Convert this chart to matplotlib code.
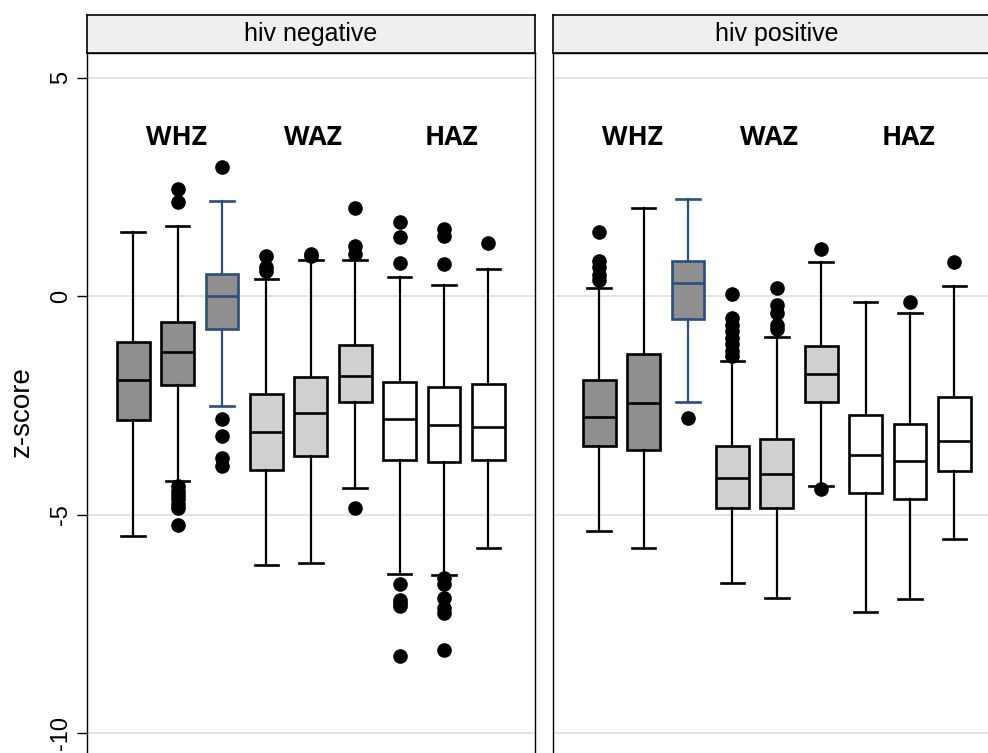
import matplotlib
matplotlib.use("Agg")
import matplotlib.pyplot as plt

# box statistics, 9 boxes per panel:
# WHZ (3), WAZ (3), HAZ (3)
PANELS = ["hiv negative", "hiv positive"]
GROUPS = ["WHZ", "WAZ", "HAZ"]

neg_whislo = [-5.48, -4.23, -2.52, -6.15, -6.12, -4.40, -6.37, -6.39, -5.76]
neg_q1 = [-2.84, -2.03, -0.75, -3.97, -3.66, -2.43, -3.75, -3.79, -3.75]
neg_med = [-1.91, -1.27, 0.00, -3.12, -2.68, -1.83, -2.82, -2.95, -2.99]
neg_q3 = [-1.04, -0.58, 0.52, -2.23, -1.84, -1.11, -1.97, -2.07, -2.00]
neg_whishi = [1.46, 1.61, 2.19, 0.39, 0.82, 0.84, 0.43, 0.26, 0.63]
neg_fliers = [
    [],
    [2.45, 2.16, -4.35, -4.45, -4.55, -4.65, -4.75, -4.85, -5.23],
    [2.95, -2.81, -3.19, -3.70, -3.88],
    [0.93, 0.68, 0.57],
    [0.97, 0.93],
    [2.01, 1.14, 0.97, -4.84],
    [1.71, 1.36, 0.76, -6.58, -6.95, -7.03, -7.10, -8.23],
    [1.54, 1.37, 0.74, -6.45, -6.60, -6.90, -7.14, -7.25, -8.11],
    [1.23],
]

pos_whislo = [-5.37, -5.77, -2.42, -6.57, -6.90, -4.35, -7.24, -6.93, -5.55]
pos_q1 = [-3.42, -3.53, -0.52, -4.84, -4.85, -2.42, -4.51, -4.64, -4.00]
pos_med = [-2.77, -2.45, 0.30, -4.16, -4.08, -1.78, -3.63, -3.78, -3.32]
pos_q3 = [-1.91, -1.32, 0.81, -3.43, -3.26, -1.13, -2.73, -2.93, -2.31]
pos_whishi = [0.19, 2.02, 2.23, -1.48, -0.94, 0.79, -0.14, -0.39, 0.23]
pos_fliers = [
    [1.48, 0.80, 0.68, 0.49, 0.37],
    [],
    [-2.80],
    [0.05, -0.50, -0.65, -0.80, -0.95, -1.10, -1.25, -1.38],
    [0.18, -0.19, -0.39, -0.65, -0.76],
    [1.09, -4.41],
    [],
    [-0.13],
    [0.78],
]

FILLS = ["#8f8f8f", "#8f8f8f", "#8f8f8f",
         "#d0d0d0", "#d0d0d0", "#d0d0d0",
         "#ffffff", "#ffffff", "#ffffff"]
EDGES = ["black", "black", "#2a4f7a"] + ["black"] * 6

plt.rcParams["font.family"] = ["Liberation Sans", "DejaVu Sans"]

fig = plt.figure(figsize=(9.88, 7.53), dpi=100)

W, H = 988.0, 753.0
ax_top = 1 - 53 / H
ax_bot = -17 / H
lefts = [87 / W, 553 / W]
width = 448 / W

data = [
    (neg_whislo, neg_q1, neg_med, neg_q3, neg_whishi, neg_fliers),
    (pos_whislo, pos_q1, pos_med, pos_q3, pos_whishi, pos_fliers),
]
label_x = [[1.98, 5.05, 8.18], [1.76, 4.83, 7.96]]

for p, (title, (wlo, q1, med, q3, whi, fl)) in enumerate(zip(PANELS, data)):
    ax = fig.add_axes([lefts[p], ax_bot, width, ax_top - ax_bot])
    stats = []
    for i in range(len(med)):
        stats.append(dict(whislo=wlo[i], q1=q1[i], med=med[i], q3=q3[i],
                          whishi=whi[i], fliers=fl[i]))
    positions = list(range(1, len(stats) + 1))
    for i, st in enumerate(stats):
        c = EDGES[i]
        ax.bxp([st], positions=[positions[i]], widths=0.74, capwidths=0.53,
               patch_artist=True, showfliers=True,
               boxprops=dict(facecolor=FILLS[i], edgecolor=c, linewidth=1.9),
               medianprops=dict(color=c, linewidth=1.9),
               whiskerprops=dict(color=c, linewidth=1.6),
               capprops=dict(color=c, linewidth=1.9),
               flierprops=dict(marker="o", markerfacecolor="black",
                               markeredgecolor="black", markersize=9.5))

    ax.set_xlim(-0.04, 10.05)
    ax.set_ylim(-10.85, 5.57)
    ax.set_yticks([5, 0, -5, -10])
    ax.set_xticks([])
    ax.grid(axis="y", color="#dcdcdc", linewidth=1.1)
    ax.set_axisbelow(True)
    for s in ax.spines.values():
        s.set_linewidth(1.0)
    if p == 0:
        ax.set_yticklabels(["5", "0", "-5", "-10"], rotation=90, va="center",
                           fontsize=17)
        ax.tick_params(axis="y", length=7, width=1.0, pad=4)
        ax.set_ylabel("z-score", fontsize=20, labelpad=11)
    else:
        ax.tick_params(axis="y", length=0, labelleft=False)

    for g, gx in zip(GROUPS, label_x[p]):
        ax.text(gx, 3.63, g, ha="center", va="center", fontsize=19,
                fontweight="bold", family=["Open Sans", "DejaVu Sans"])

    # strip header
    sax = fig.add_axes([lefts[p], ax_top, width, 38 / H])
    sax.set_facecolor("#efefef")
    sax.set_xticks([])
    sax.set_yticks([])
    for s in sax.spines.values():
        s.set_linewidth(1.2)
    sax.text(0.5, 0.5, title, ha="center", va="center", fontsize=18,
             transform=sax.transAxes)

fig.savefig("out.png", dpi=100)
